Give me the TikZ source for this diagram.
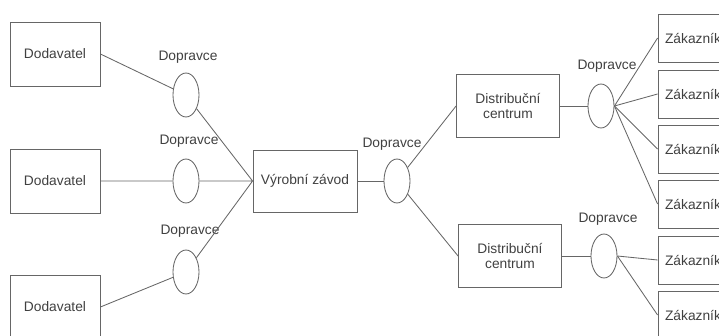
\documentclass[tikz,border=0pt]{standalone}
\usepackage{fontspec}
\setmainfont{Liberation Sans}
\usetikzlibrary{shapes.geometric}

\definecolor{linegray}{gray}{0.4}
\definecolor{textgray}{gray}{0.25}

\tikzset{
	box/.style={draw=linegray, line width=0.6pt, text=textgray, align=center, inner sep=0pt},
	dodbox/.style={box, minimum width=2.25cm, minimum height=1.6cm},
	vyrbox/.style={box, minimum width=2.6cm, minimum height=1.55cm},
	dcbox/.style={box, minimum width=2.575cm, minimum height=1.575cm},
	zakbox/.style={box, minimum width=1.75cm, minimum height=1.2cm},
	dopr/.style={ellipse, draw=linegray, line width=0.6pt, minimum width=0.65cm, minimum height=1.1cm, inner sep=0pt},
	lbl/.style={text=textgray, inner sep=0pt},
	link/.style={draw=linegray, line width=0.6pt}
}

\begin{document}
\begin{tikzpicture}[x=0.025cm, y=-0.025cm, font=\fontsize{9.8}{11}\selectfont]
	\useasboundingbox (0,0) rectangle (719,336);
	\clip (0,0) rectangle (719,336);

	% dodavatele
	\node[dodbox] (d1) at (55,54) {Dodavatel};
	\node[dodbox] (d2) at (55,181) {Dodavatel};
	\node[dodbox] (d3) at (55,307) {Dodavatel};

	\node[dopr] (e1) at (186,95) {};
	\node[dopr] (e2) at (186,181) {};
	\node[dopr] (e3) at (186,272) {};
	\node[lbl] (l1) at (188,57) {Dopravce};
	\node[lbl] (l2) at (189,141) {Dopravce};
	\node[lbl] (l3) at (190,231) {Dopravce};

	\node[vyrbox] (v) at (305,181) {Výrobní závod};

	\node[dopr] (e4) at (397,181) {};
	\node[lbl] (l4) at (392,144) {Dopravce};

	% distribucni centra
	\node[dcbox] (c1) at (508,106) {Distribuční\\centrum};
	\node[dcbox] (c2) at (510,256) {Distribuční\\centrum};

	\node[dopr] (e5) at (601,106) {};
	\node[dopr] (e6) at (604,256) {};
	\node[lbl] (l5) at (607,66) {Dopravce};
	\node[lbl] (l6) at (608,219) {Dopravce};

	% zakaznici
	\node[zakbox] (z1) at (693,38) {Zákazník};
	\node[zakbox] (z2) at (693,94) {Zákazník};
	\node[zakbox] (z3) at (693,149) {Zákazník};
	\node[zakbox] (z4) at (693,204) {Zákazník};
	\node[zakbox] (z5) at (693,260) {Zákazník};
	\node[zakbox] (z6) at (693,315) {Zákazník};

	\path[link] (d1.east) -- (e1) (d2.east) -- (e2) (d3.east) -- (e3);
	\path[link] (e1) -- (v.west) (e2) -- (v.west) (e3) -- (v.west);
	\path[link] (v.east) -- (e4);
	\path[link] (e4) -- (c1.west) (e4) -- (c2.west);
	\path[link] (c1.east) -- (e5) (c2.east) -- (e6);
	\foreach \z in {z1,z2,z3,z4}
		\path[link] (e5.east) -- (\z.west);
	\foreach \z in {z5,z6}
		\path[link] (e6.east) -- (\z.west);
\end{tikzpicture}
\end{document}
